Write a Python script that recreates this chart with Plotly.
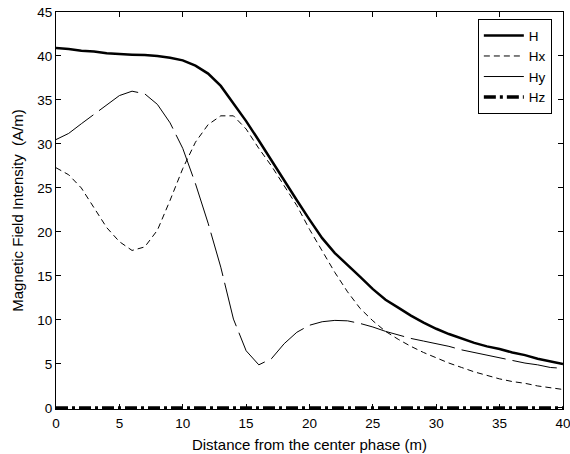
import plotly.graph_objects as go

x = list(range(0, 41))

H = [40.9, 40.8, 40.6, 40.5, 40.3, 40.2, 40.15, 40.1, 40.0, 39.8,
     39.5, 38.9, 38.0, 36.6, 34.6, 32.6, 30.4, 28.1, 25.8, 23.6,
     21.4, 19.3, 17.6, 16.3, 14.9, 13.5, 12.3, 11.4, 10.5, 9.7,
     9.0, 8.4, 7.9, 7.4, 7.0, 6.7, 6.3, 6.0, 5.6, 5.3, 5.0]

Hx = [27.3, 26.5, 25.0, 22.8, 20.5, 18.9, 17.9, 18.3, 20.2, 23.6,
      27.2, 30.2, 32.2, 33.2, 33.2, 31.7, 29.5, 27.5, 25.3, 23.0,
      20.3, 17.8, 15.4, 13.2, 11.3, 9.9, 8.7, 7.8, 7.0, 6.3,
      5.7, 5.1, 4.6, 4.1, 3.7, 3.3, 3.0, 2.8, 2.5, 2.3, 2.1]

Hy = [30.5, 31.2, 32.3, 33.4, 34.5, 35.5, 36.0, 35.7, 34.5, 32.4,
      29.5, 25.5, 21.0, 16.0, 10.1, 6.5, 4.9, 5.6, 7.3, 8.6,
      9.4, 9.8, 9.95, 9.9, 9.6, 9.2, 8.7, 8.3, 7.9, 7.6,
      7.3, 7.0, 6.6, 6.3, 6.0, 5.7, 5.4, 5.1, 4.9, 4.6, 4.5]

Hz = [0.0] * 41

x_ticks = [0, 5, 10, 15, 20, 25, 30, 35, 40]
y_ticks = [0, 5, 10, 15, 20, 25, 30, 35, 40, 45]

FONT = "Liberation Sans, Arial, sans-serif"

fig = go.Figure()
fig.add_trace(go.Scatter(x=x, y=H, mode="lines", name="H",
                         line=dict(color="black", width=2.5)))
fig.add_trace(go.Scatter(x=x, y=Hx, mode="lines", name="Hx",
                         line=dict(color="black", width=1, dash="6px,4px")))
fig.add_trace(go.Scatter(x=x, y=Hy, mode="lines", name="Hy",
                         line=dict(color="black", width=1, dash="45px,7px")))
fig.add_trace(go.Scatter(x=x, y=Hz, mode="lines", name="Hz",
                         line=dict(color="black", width=3.5, dash="12px,4px,3px,4px")))

axis_common = dict(
    showline=True, linecolor="black", linewidth=1, mirror="ticks",
    ticks="inside", ticklen=5, tickcolor="black", tickwidth=1,
    showgrid=False, zeroline=False, automargin=False,
    ticklabeloverflow="allow",
    tickfont=dict(family=FONT, size=13.5, color="black"),
)

fig.update_layout(
    width=570, height=454,
    margin=dict(l=56, r=7, t=12, b=45),
    paper_bgcolor="white", plot_bgcolor="white",
    font=dict(family=FONT, size=13.5, color="black"),
    xaxis=dict(range=[0, 40], tickvals=x_ticks, ticklabelstandoff=2,
               title=dict(text="Distance from the center phase (m)",
                          font=dict(family=FONT, size=15), standoff=9),
               **axis_common),
    yaxis=dict(range=[-0.12, 45], tickvals=y_ticks,
               title=dict(text="Magnetic Field Intensity&nbsp; (A/m)",
                          font=dict(family=FONT, size=15), standoff=10),
               **axis_common),
    legend=dict(x=0.978, y=0.982, xanchor="right", yanchor="top",
                bordercolor="black", borderwidth=1, bgcolor="white",
                font=dict(family=FONT, size=13.5), tracegroupgap=0,
                itemwidth=40),
    showlegend=True,
)

fig.write_html("out.html")
